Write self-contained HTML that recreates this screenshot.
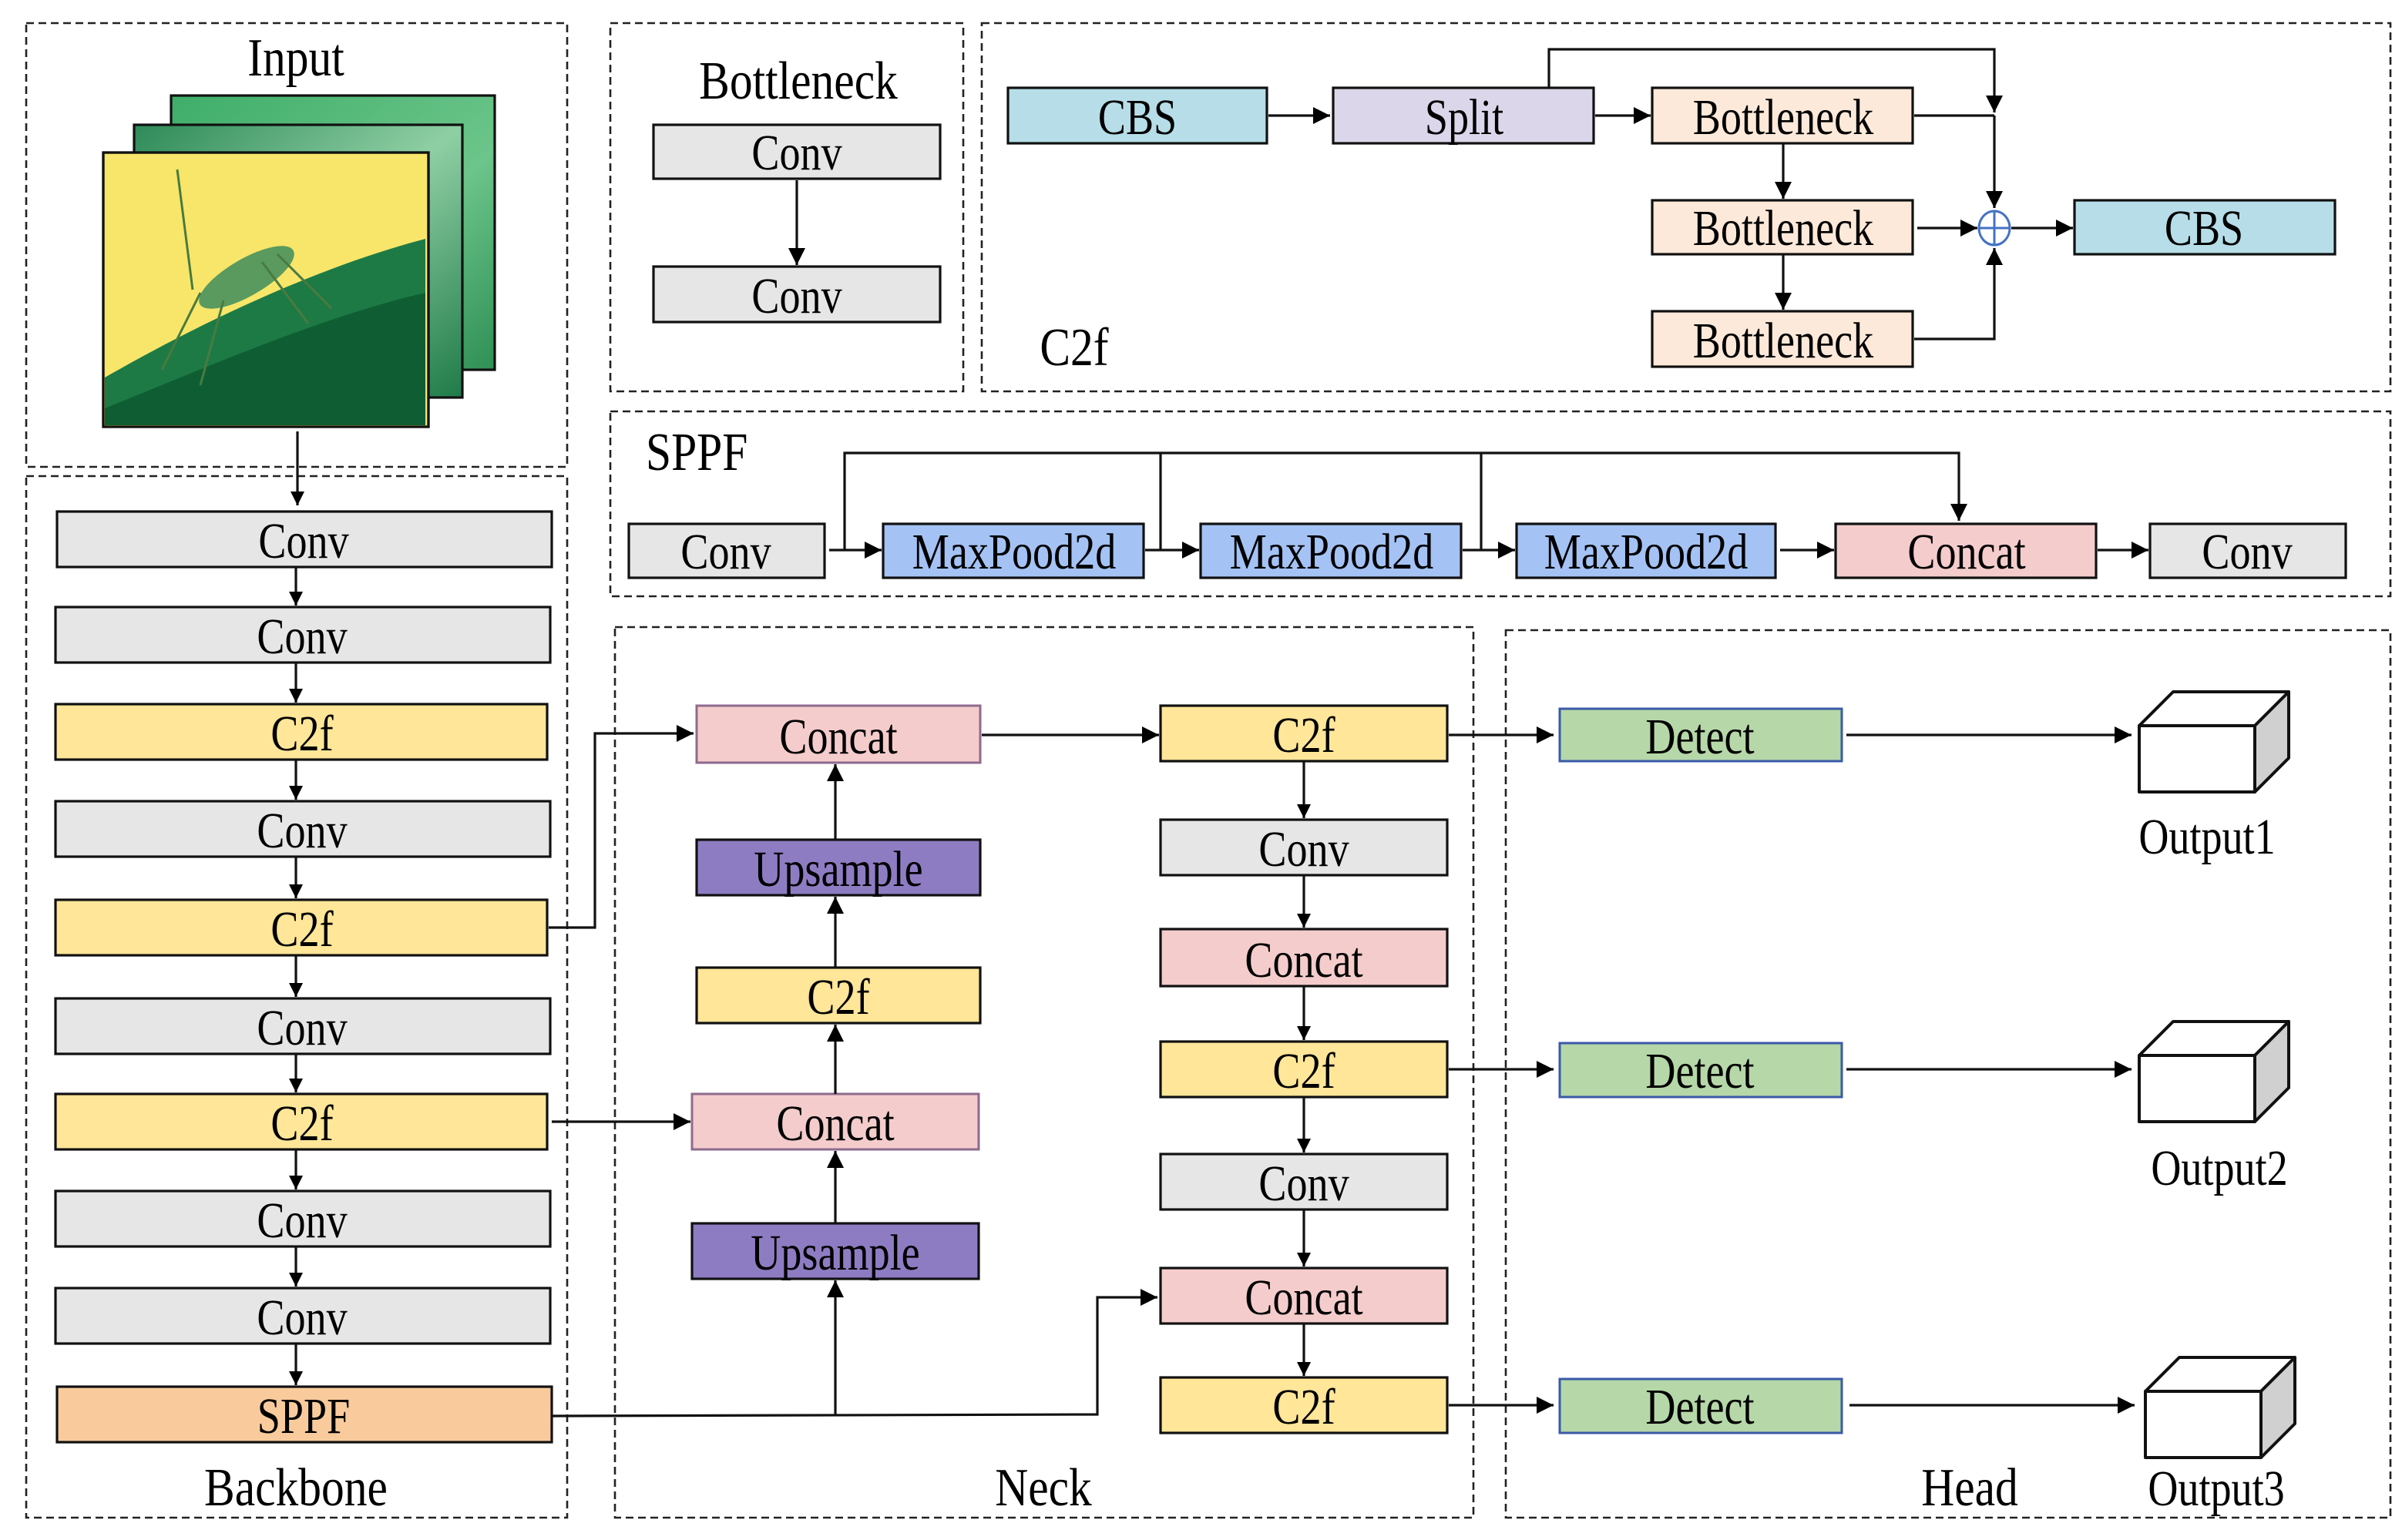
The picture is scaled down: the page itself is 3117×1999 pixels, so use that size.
<!DOCTYPE html>
<html><head><meta charset="utf-8"><style>
html,body{margin:0;padding:0;background:#fff}
svg{display:block}
text{font-family:"Liberation Serif","DejaVu Serif",serif;text-anchor:middle;font-size:33px;fill:#000}
.t{font-size:35px}
.d{fill:none;stroke:#222;stroke-width:1.3;stroke-dasharray:5 3}
.b{stroke:#111;stroke-width:1.6}
.l{fill:none;stroke:#111;stroke-width:1.6}
</style></head><body>
<svg width="3117" height="1999" viewBox="0 0 1558.5 999.5" xmlns="http://www.w3.org/2000/svg">
<defs>
<marker id="a" viewBox="0 0 10 10" refX="10" refY="5" markerWidth="9" markerHeight="9" markerUnits="userSpaceOnUse" orient="auto"><path d="M0,0L10,5L0,10z" fill="#000"/></marker>
<marker id="A" viewBox="0 0 10 10" refX="10" refY="5" markerWidth="11" markerHeight="11" markerUnits="userSpaceOnUse" orient="auto"><path d="M0,0L10,5L0,10z" fill="#000"/></marker>
<linearGradient id="g1" x1="0" y1="0" x2="1" y2="1"><stop offset="0" stop-color="#3fae6a"/><stop offset="0.6" stop-color="#6cc58a"/><stop offset="1" stop-color="#2f8f55"/></linearGradient>
<linearGradient id="g2" x1="0" y1="0" x2="1" y2="1"><stop offset="0" stop-color="#2e8a58"/><stop offset="0.5" stop-color="#8fcfa4"/><stop offset="1" stop-color="#1f7a48"/></linearGradient>
</defs>

<rect class="d" x="17" y="15" width="351" height="288"/>
<rect class="d" x="17" y="309" width="351" height="676"/>
<rect class="d" x="396" y="15" width="229" height="239"/>
<rect class="d" x="637" y="15" width="914" height="239"/>
<rect class="d" x="396" y="267" width="1155" height="120"/>
<rect class="d" x="399" y="407" width="557" height="578"/>
<rect class="d" x="977" y="409" width="574" height="576"/>

<text class="t" transform="translate(192,49) scale(.85,1)">Input</text>
<rect x="111" y="62" width="210" height="178" fill="url(#g1)" class="b"/>
<rect x="87" y="81" width="213" height="177" fill="url(#g2)" class="b"/>
<rect x="67" y="99" width="211" height="178" fill="#f7e66a" class="b"/>
<path d="M68,245 C120,215 200,175 276,155 L276,276 L68,276 Z" fill="#1d7a45"/>
<path d="M68,265 C130,240 210,205 276,190 L276,276 L68,276 Z" fill="#0f5e33"/>
<ellipse cx="160" cy="180" rx="35" ry="12" transform="rotate(-30 160 180)" fill="#5a9a5e"/>
<path d="M130,190 L105,240 M145,195 L130,250 M170,170 L200,210 M180,165 L215,200 M125,188 L115,110" stroke="#4a7a40" stroke-width="1.5" fill="none"/>
<rect x="67" y="99" width="211" height="178" fill="none" class="b"/>
<line class="l" x1="193" y1="280" x2="193" y2="328" marker-end="url(#a)"/>

<rect x="37" y="332" width="321" height="36" fill="#e6e6e6" class="b"/><text transform="translate(197,362) scale(.82,1)">Conv</text>
<rect x="36" y="394" width="321" height="36" fill="#e6e6e6" class="b"/><text transform="translate(196,424) scale(.82,1)">Conv</text>
<rect x="36" y="457" width="319" height="36" fill="#ffe699" class="b"/><text transform="translate(196,487) scale(.82,1)">C2f</text>
<rect x="36" y="520" width="321" height="36" fill="#e6e6e6" class="b"/><text transform="translate(196,550) scale(.82,1)">Conv</text>
<rect x="36" y="584" width="319" height="36" fill="#ffe699" class="b"/><text transform="translate(196,614) scale(.82,1)">C2f</text>
<rect x="36" y="648" width="321" height="36" fill="#e6e6e6" class="b"/><text transform="translate(196,678) scale(.82,1)">Conv</text>
<rect x="36" y="710" width="319" height="36" fill="#ffe699" class="b"/><text transform="translate(196,740) scale(.82,1)">C2f</text>
<rect x="36" y="773" width="321" height="36" fill="#e6e6e6" class="b"/><text transform="translate(196,803) scale(.82,1)">Conv</text>
<rect x="36" y="836" width="321" height="36" fill="#e6e6e6" class="b"/><text transform="translate(196,866) scale(.82,1)">Conv</text>
<rect x="37" y="900" width="321" height="36" fill="#f9cb9c" class="b"/><text transform="translate(197,930) scale(.82,1)">SPPF</text>
<line class="l" x1="192" y1="368" x2="192" y2="393" marker-end="url(#a)"/>
<line class="l" x1="192" y1="430" x2="192" y2="456" marker-end="url(#a)"/>
<line class="l" x1="192" y1="493" x2="192" y2="519" marker-end="url(#a)"/>
<line class="l" x1="192" y1="556" x2="192" y2="583" marker-end="url(#a)"/>
<line class="l" x1="192" y1="620" x2="192" y2="647" marker-end="url(#a)"/>
<line class="l" x1="192" y1="684" x2="192" y2="709" marker-end="url(#a)"/>
<line class="l" x1="192" y1="746" x2="192" y2="772" marker-end="url(#a)"/>
<line class="l" x1="192" y1="809" x2="192" y2="835" marker-end="url(#a)"/>
<line class="l" x1="192" y1="872" x2="192" y2="899" marker-end="url(#a)"/>
<text class="t" transform="translate(192,977) scale(.85,1)">Backbone</text>

<text class="t" transform="translate(518,64) scale(.85,1)">Bottleneck</text>
<rect x="424" y="81" width="186" height="35" fill="#e6e6e6" class="b"/><text transform="translate(517,110) scale(.82,1)">Conv</text>
<rect x="424" y="173" width="186" height="36" fill="#e6e6e6" class="b"/><text transform="translate(517,203) scale(.82,1)">Conv</text>
<line class="l" x1="517" y1="117" x2="517" y2="172" marker-end="url(#A)"/>

<rect x="654" y="57" width="168" height="36" fill="#b7dee8" class="b"/><text transform="translate(738,87) scale(.82,1)">CBS</text>
<rect x="865" y="57" width="169" height="36" fill="#dcd6ea" class="b"/><text transform="translate(950,87) scale(.82,1)">Split</text>
<rect x="1072" y="57" width="169" height="36" fill="#fde9d9" class="b"/><text transform="translate(1157,87) scale(.82,1)">Bottleneck</text>
<rect x="1072" y="130" width="169" height="35" fill="#fde9d9" class="b"/><text transform="translate(1157,159) scale(.82,1)">Bottleneck</text>
<rect x="1072" y="202" width="169" height="36" fill="#fde9d9" class="b"/><text transform="translate(1157,232) scale(.82,1)">Bottleneck</text>
<rect x="1346" y="130" width="169" height="35" fill="#b7dee8" class="b"/><text transform="translate(1430,159) scale(.82,1)">CBS</text>
<text class="t" transform="translate(697,237) scale(.85,1)">C2f</text>
<ellipse cx="1294" cy="148" rx="10" ry="11" fill="none" stroke="#4472c4" stroke-width="1.5"/>
<line x1="1284" y1="148" x2="1304" y2="148" stroke="#4472c4" stroke-width="1.5"/>
<line x1="1294" y1="137" x2="1294" y2="159" stroke="#4472c4" stroke-width="1.5"/>
<line class="l" x1="823" y1="75" x2="863" y2="75" marker-end="url(#A)"/>
<line class="l" x1="1035" y1="75" x2="1071" y2="75" marker-end="url(#A)"/>
<polyline class="l" points="1005,57 1005,32 1294,32 1294,73" marker-end="url(#A)"/>
<polyline class="l" points="1242,75 1294,75"/>
<line class="l" x1="1294" y1="75" x2="1294" y2="135" marker-end="url(#A)"/>
<line class="l" x1="1157" y1="93" x2="1157" y2="129" marker-end="url(#A)"/>
<line class="l" x1="1157" y1="165" x2="1157" y2="201" marker-end="url(#A)"/>
<line class="l" x1="1244" y1="148" x2="1283" y2="148" marker-end="url(#A)"/>
<line class="l" x1="1305" y1="148" x2="1345" y2="148" marker-end="url(#A)"/>
<polyline class="l" points="1242,220 1294,220 1294,161" marker-end="url(#A)"/>

<text class="t" style="text-anchor:start" transform="translate(419,305) scale(.85,1)">SPPF</text>
<rect x="408" y="340" width="127" height="35" fill="#e6e6e6" class="b"/><text transform="translate(471,369) scale(.82,1)">Conv</text>
<rect x="573" y="340" width="169" height="35" fill="#a4c2f4" class="b"/><text transform="translate(658,369) scale(.82,1)">MaxPood2d</text>
<rect x="779" y="340" width="169" height="35" fill="#a4c2f4" class="b"/><text transform="translate(864,369) scale(.82,1)">MaxPood2d</text>
<rect x="984" y="340" width="168" height="35" fill="#a4c2f4" class="b"/><text transform="translate(1068,369) scale(.82,1)">MaxPood2d</text>
<rect x="1191" y="340" width="169" height="35" fill="#f4cccc" class="b"/><text transform="translate(1276,369) scale(.82,1)">Concat</text>
<rect x="1395" y="340" width="127" height="35" fill="#e6e6e6" class="b"/><text transform="translate(1458,369) scale(.82,1)">Conv</text>
<line class="l" x1="538" y1="357" x2="572" y2="357" marker-end="url(#A)"/>
<line class="l" x1="743" y1="357" x2="778" y2="357" marker-end="url(#A)"/>
<line class="l" x1="949" y1="357" x2="983" y2="357" marker-end="url(#A)"/>
<line class="l" x1="1155" y1="357" x2="1190" y2="357" marker-end="url(#A)"/>
<line class="l" x1="1361" y1="357" x2="1394" y2="357" marker-end="url(#A)"/>
<polyline class="l" points="548,357 548,294 1271,294 1271,338" marker-end="url(#A)"/>
<line class="l" x1="753" y1="294" x2="753" y2="357"/>
<line class="l" x1="961" y1="294" x2="961" y2="357"/>

<rect x="452" y="458" width="184" height="37" fill="#f4cccc" stroke="#8e6a8e" stroke-width="1.5"/><text transform="translate(544,489) scale(.82,1)">Concat</text>
<rect x="452" y="545" width="184" height="36" fill="#8e7cc3" class="b"/><text transform="translate(544,575) scale(.82,1)">Upsample</text>
<rect x="452" y="628" width="184" height="36" fill="#ffe699" class="b"/><text transform="translate(544,658) scale(.82,1)">C2f</text>
<rect x="449" y="710" width="186" height="36" fill="#f4cccc" stroke="#8e6a8e" stroke-width="1.5"/><text transform="translate(542,740) scale(.82,1)">Concat</text>
<rect x="449" y="794" width="186" height="36" fill="#8e7cc3" class="b"/><text transform="translate(542,824) scale(.82,1)">Upsample</text>
<line class="l" x1="542" y1="545" x2="542" y2="496" marker-end="url(#A)"/>
<line class="l" x1="542" y1="628" x2="542" y2="582" marker-end="url(#A)"/>
<line class="l" x1="542" y1="710" x2="542" y2="665" marker-end="url(#A)"/>
<line class="l" x1="542" y1="794" x2="542" y2="747" marker-end="url(#A)"/>
<line class="l" x1="542" y1="918" x2="542" y2="831" marker-end="url(#A)"/>
<polyline class="l" points="358,919 712,918 712,842 751,842" marker-end="url(#A)"/>
<polyline class="l" points="356,602 386,602 386,476 450,476" marker-end="url(#A)"/>
<line class="l" x1="358" y1="728" x2="448" y2="728" marker-end="url(#A)"/>
<line class="l" x1="637" y1="477" x2="752" y2="477" marker-end="url(#A)"/>

<rect x="753" y="458" width="186" height="36" fill="#ffe699" class="b"/><text transform="translate(846,488) scale(.82,1)">C2f</text>
<rect x="753" y="532" width="186" height="36" fill="#e6e6e6" class="b"/><text transform="translate(846,562) scale(.82,1)">Conv</text>
<rect x="753" y="603" width="186" height="37" fill="#f4cccc" class="b"/><text transform="translate(846,634) scale(.82,1)">Concat</text>
<rect x="753" y="676" width="186" height="36" fill="#ffe699" class="b"/><text transform="translate(846,706) scale(.82,1)">C2f</text>
<rect x="753" y="749" width="186" height="36" fill="#e6e6e6" class="b"/><text transform="translate(846,779) scale(.82,1)">Conv</text>
<rect x="753" y="823" width="186" height="36" fill="#f4cccc" class="b"/><text transform="translate(846,853) scale(.82,1)">Concat</text>
<rect x="753" y="894" width="186" height="36" fill="#ffe699" class="b"/><text transform="translate(846,924) scale(.82,1)">C2f</text>
<line class="l" x1="846" y1="494" x2="846" y2="531" marker-end="url(#a)"/>
<line class="l" x1="846" y1="568" x2="846" y2="602" marker-end="url(#a)"/>
<line class="l" x1="846" y1="640" x2="846" y2="675" marker-end="url(#a)"/>
<line class="l" x1="846" y1="712" x2="846" y2="748" marker-end="url(#a)"/>
<line class="l" x1="846" y1="785" x2="846" y2="822" marker-end="url(#a)"/>
<line class="l" x1="846" y1="859" x2="846" y2="893" marker-end="url(#a)"/>
<text class="t" transform="translate(677,977) scale(.85,1)">Neck</text>

<line class="l" x1="940" y1="477" x2="1008" y2="477" marker-end="url(#A)"/>
<line class="l" x1="940" y1="694" x2="1008" y2="694" marker-end="url(#A)"/>
<line class="l" x1="940" y1="912" x2="1008" y2="912" marker-end="url(#A)"/>
<rect x="1012" y="460" width="183" height="34" fill="#b6d7a8" stroke="#3a5aa8" stroke-width="1.5"/><text transform="translate(1103,489) scale(.82,1)">Detect</text>
<rect x="1012" y="677" width="183" height="35" fill="#b6d7a8" stroke="#3a5aa8" stroke-width="1.5"/><text transform="translate(1103,706) scale(.82,1)">Detect</text>
<rect x="1012" y="895" width="183" height="35" fill="#b6d7a8" stroke="#3a5aa8" stroke-width="1.5"/><text transform="translate(1103,924) scale(.82,1)">Detect</text>
<line class="l" x1="1198" y1="477" x2="1383" y2="477" marker-end="url(#A)"/>
<line class="l" x1="1198" y1="694" x2="1383" y2="694" marker-end="url(#A)"/>
<line class="l" x1="1200" y1="912" x2="1385" y2="912" marker-end="url(#A)"/>

<g stroke="#111" stroke-width="2" stroke-linejoin="round">
<path d="M1388,471 L1410,449 L1485,449 L1463,471 Z" fill="#fff"/>
<path d="M1463,471 L1485,449 L1485,492 L1463,514 Z" fill="#d0d0d0"/>
<rect x="1388" y="471" width="75" height="43" fill="#fff"/>
<path d="M1388,685 L1410,663 L1485,663 L1463,685 Z" fill="#fff"/>
<path d="M1463,685 L1485,663 L1485,706 L1463,728 Z" fill="#d0d0d0"/>
<rect x="1388" y="685" width="75" height="43" fill="#fff"/>
<path d="M1392,903 L1414,881 L1489,881 L1467,903 Z" fill="#fff"/>
<path d="M1467,903 L1489,881 L1489,924 L1467,946 Z" fill="#d0d0d0"/>
<rect x="1392" y="903" width="75" height="43" fill="#fff"/>
</g>
<text transform="translate(1432,554) scale(.82,1)">Output1</text>
<text transform="translate(1440,769) scale(.82,1)">Output2</text>
<text transform="translate(1438,977) scale(.82,1)">Output3</text>
<text class="t" transform="translate(1278,977) scale(.85,1)">Head</text>
</svg>
</body></html>
